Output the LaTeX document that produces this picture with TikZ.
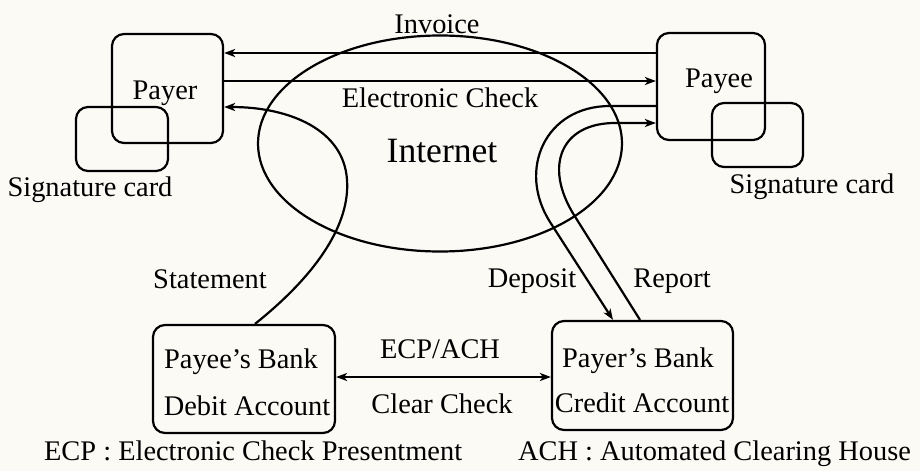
\documentclass[tikz,border=0pt]{standalone}
\usepackage{fontspec}
\setmainfont{Liberation Serif}
\usetikzlibrary{arrows.meta,shapes.geometric}
\definecolor{paper}{RGB}{251,250,245}
\begin{document}
\begin{tikzpicture}[x=0.5pt,y=-0.5pt,
  line width=1.1pt,
  every node/.style={font=\fontsize{14.2}{17}\selectfont},
  box/.style={draw,rounded corners=6pt,inner sep=0pt},
  lbl/.style={anchor=base,inner sep=0pt},
  arr/.style={-{Stealth[length=5.5pt,width=4pt,inset=1.5pt]}},
  darr/.style={{Stealth[length=5.5pt,width=4pt,inset=1.5pt]}-{Stealth[length=5.5pt,width=4pt,inset=1.5pt]}}]
  % page
  \fill[paper] (0,0) rectangle (920,471);
  \useasboundingbox (0,0) rectangle (920,471);

  % the Internet cloud
  \node[draw,ellipse,inner sep=0pt,minimum width=182pt,minimum height=108pt] (net) at (440,143.5) {};
  \node[lbl,font=\fontsize{17.8}{21}\selectfont] (nettext) at (442,162) {Internet};

  % parties and their signature cards
  \node[box,minimum width=55.5pt,minimum height=54.5pt] (payer) at (167.5,88.5) {};
  \node[box,minimum width=46pt,minimum height=32pt] (payercard) at (122,139) {};
  \node[box,minimum width=54pt,minimum height=53.5pt] (payee) at (711,86.5) {};
  \node[box,minimum width=45.5pt,minimum height=32pt] (payeecard) at (757.5,135) {};

  % banks
  \node[box,minimum width=91pt,minimum height=54pt] (dbank) at (244,379) {};
  \node[box,minimum width=90.5pt,minimum height=54.5pt] (cbank) at (642.5,375.5) {};

  % texts
  \node[lbl] (tpayer) at (165,99) {Payer};
  \node[lbl] (tpayee) at (719,87) {Payee};
  \node[lbl] (tcard1) at (90,196) {Signature card};
  \node[lbl] (tcard2) at (812,193) {Signature card};
  \node[lbl] (tinv) at (437,33) {Invoice};
  \node[lbl] (tcheck) at (440,107) {Electronic Check};
  \node[lbl] (tstate) at (210,288) {Statement};
  \node[lbl] (tdep) at (532,287) {Deposit};
  \node[lbl] (trep) at (672,287) {Report};
  \node[lbl] (tecp) at (440,358) {ECP/ACH};
  \node[lbl] (tclear) at (442,413) {Clear Check};
  \node[lbl] (tdb1) at (241,368) {Payee’s Bank};
  \node[lbl] (tdb2) at (247,415) {Debit Account};
  \node[lbl] (tcb1) at (638,367) {Payer’s Bank};
  \node[lbl] (tcb2) at (642,412) {Credit Account};
  \node[lbl,anchor=base west] (key1) at (43,460) {ECP : Electronic Check Presentment};
  \node[lbl,anchor=base west] (key2) at (517,460) {ACH : Automated Clearing House};

  % messages between payer and payee
  \draw[arr] (payee.west |- 0,53) -- (payer.east |- 0,53);
  \draw[arr] (payer.east |- 0,81) -- (payee.west |- 0,81);

  % statement from the payee's bank to the payer
  \draw[arr] (dbank.north -| 255,0) .. controls (320,272) and (350,222) .. (347,180)
     .. controls (344,130) and (290,107) .. (payer.east |- 0,107);

  % deposit and report between payee and the payer's bank
  \draw[arr] (payee.west |- 0,106) -- (610,106) .. controls (545,106) and (517,170) .. (550,222)
     -- (cbank.north -| 613,0);
  \draw[arr] (cbank.north -| 640,0) -- (574,215) .. controls (543,165) and (562,123) .. (615,123)
     -- (payee.west |- 0,123);

  % clearing between the banks
  \draw[darr] (dbank.east |- 0,377) -- (cbank.west |- 0,377);
\end{tikzpicture}
\end{document}
